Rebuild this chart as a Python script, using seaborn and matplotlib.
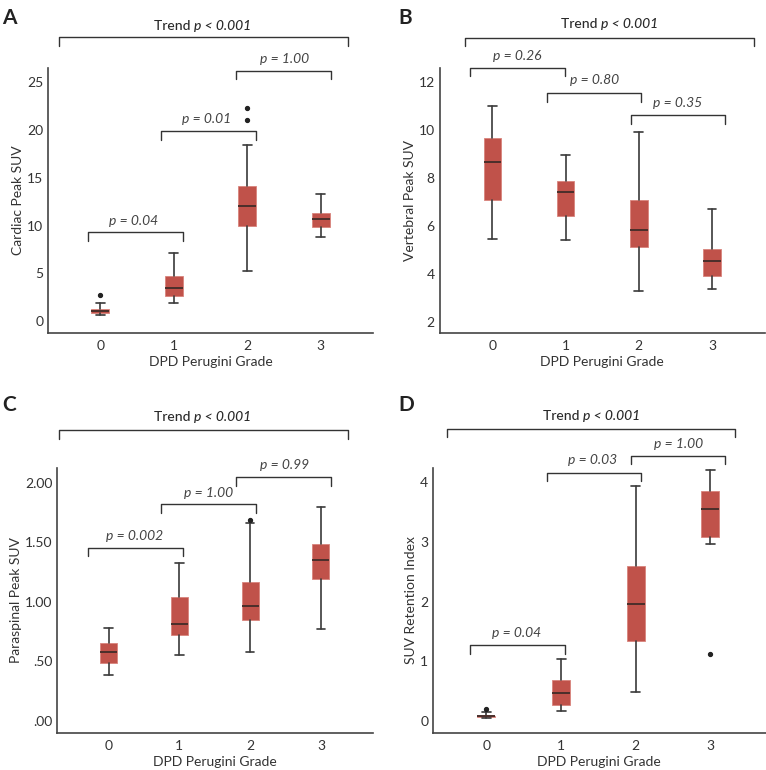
import numpy as np
import seaborn as sns
import matplotlib.pyplot as plt
from matplotlib import transforms

# grades on the x axis
grades = [0, 1, 2, 3]

# A - cardiac peak SUV
cardiac_lo = [0.63, 1.85, 5.28, 8.81]
cardiac_q1 = [0.87, 2.59, 9.97, 9.83]
cardiac_med = [1.08, 3.46, 12.0, 10.66]
cardiac_q3 = [1.22, 4.69, 14.16, 11.36]
cardiac_hi = [1.85, 7.17, 18.4, 13.25]
cardiac_out = [[2.7], [], [21.1, 22.3], []]

# B - vertebral peak SUV
vert_lo = [5.46, 5.42, 3.30, 3.38]
vert_q1 = [7.10, 6.42, 5.12, 3.94]
vert_med = [8.69, 7.41, 5.86, 4.54]
vert_q3 = [9.68, 7.87, 7.08, 5.03]
vert_hi = [11.02, 8.95, 9.91, 6.71]
vert_out = [[], [], [], []]

# C - paraspinal peak SUV
para_lo = [0.384, 0.557, 0.580, 0.768]
para_q1 = [0.487, 0.717, 0.846, 1.188]
para_med = [0.574, 0.815, 0.961, 1.347]
para_q3 = [0.655, 1.042, 1.162, 1.482]
para_hi = [0.776, 1.328, 1.658, 1.796]
para_out = [[], [], [1.689], []]

# D - SUV retention index
ret_lo = [0.04, 0.168, 0.476, 2.965]
ret_q1 = [0.062, 0.257, 1.337, 3.077]
ret_med = [0.075, 0.47, 1.958, 3.558]
ret_q3 = [0.088, 0.677, 2.60, 3.85]
ret_hi = [0.145, 1.03, 3.94, 4.21]
ret_out = [[0.19], [], [], [1.113]]

# pairwise p values (0-1, 1-2, 2-3)
p_cardiac = ["0.04", "0.01", "1.00"]
p_vert = ["0.26", "0.80", "0.35"]
p_para = ["0.002", "1.00", "0.99"]
p_ret = ["0.04", "0.03", "1.00"]
trend_p = "0.001"

RED = "#c0524a"
DARK = "#333333"

sns.set_theme(style="white")
plt.rcParams["font.family"] = ["Lato", "DejaVu Sans"]
plt.rcParams["text.color"] = DARK
plt.rcParams["axes.labelcolor"] = DARK
plt.rcParams["xtick.color"] = DARK
plt.rcParams["ytick.color"] = DARK

fig = plt.figure(figsize=(7.66, 7.70), dpi=100)


def box_stats(lo, q1, med, q3, hi, out):
    stats = []
    for i in range(len(grades)):
        stats.append(dict(whislo=lo[i], q1=q1[i], med=med[i], q3=q3[i],
                          whishi=hi[i], fliers=out[i]))
    return stats


def bracket(ax, x0, x1, y, drop, label, tx, ty):
    ax.plot([x0, x0, x1, x1], [y - drop, y, y, y - drop], color=DARK, lw=1.0,
            clip_on=False)
    ax.text(tx, ty, "p = " + label, ha="center", va="center", fontsize=10,
            style="italic", color="#444444", clip_on=False)


def trend(ax, x0, x1, y, drop, tx, ty):
    ax.plot([x0, x0, x1, x1], [y - drop, y, y, y - drop], color=DARK, lw=1.0,
            clip_on=False)
    off = transforms.offset_copy(ax.transData, fig=fig, x=-9, y=0, units="dots")
    t1 = ax.text(tx, ty, "Trend ", ha="right", va="center", fontsize=10,
                 fontweight="medium", transform=off, clip_on=False, color="#2a2a2a")
    ax.annotate("p < " + trend_p, xy=(1, 0.5), xycoords=t1, va="center",
                ha="left", fontsize=10, style="italic", fontweight="medium",
                color="#2a2a2a")


panels = [
    dict(rect=[0.0627, 0.5675, 0.4243, 0.3442], letter="A",
         stats=box_stats(cardiac_lo, cardiac_q1, cardiac_med, cardiac_q3, cardiac_hi, cardiac_out),
         ylabel="Cardiac Peak SUV", xlim=(-0.71, 3.71), ylim=(-1.26, 26.5),
         yticks=[0, 5, 10, 15, 20, 25], yfmt="{:.0f}", p=p_cardiac,
         br=[(-0.17, 1.13, 9.3, 0.9, 0.45, 10.5),
             (0.83, 2.12, 19.9, 0.9, 1.45, 21.2),
             (1.85, 3.14, 26.2, 0.9, 2.5, 27.4)],
         tr=(-0.56, 3.37, 29.7, 0.9, 1.4, 30.9)),
    dict(rect=[0.574, 0.5675, 0.4243, 0.3442], letter="B",
         stats=box_stats(vert_lo, vert_q1, vert_med, vert_q3, vert_hi, vert_out),
         ylabel="Vertebral Peak SUV", xlim=(-0.72, 3.72), ylim=(1.54, 12.6),
         yticks=[2, 4, 6, 8, 10, 12], yfmt="{:.0f}", p=p_vert,
         br=[(-0.30, 0.99, 12.6, 0.35, 0.34, 13.09),
             (0.74, 2.03, 11.55, 0.35, 1.39, 12.08),
             (1.89, 3.18, 10.63, 0.35, 2.53, 11.12)],
         tr=(-0.38, 3.57, 13.85, 0.35, 1.6, 14.44)),
    dict(rect=[0.0748, 0.0484, 0.4125, 0.3442], letter="C",
         stats=box_stats(para_lo, para_q1, para_med, para_q3, para_hi, para_out),
         ylabel="Paraspinal Peak SUV", xlim=(-0.725, 3.74), ylim=(-0.10, 2.126),
         yticks=[0, 0.5, 1.0, 1.5, 2.0], yfmt="para", p=p_para,
         br=[(-0.29, 1.05, 1.454, 0.072, 0.37, 1.555),
             (0.74, 2.08, 1.818, 0.072, 1.41, 1.916),
             (1.80, 3.14, 2.048, 0.072, 2.48, 2.146)],
         tr=(-0.70, 3.38, 2.443, 0.072, 1.34, 2.555)),
    dict(rect=[0.5653, 0.0484, 0.4343, 0.3442], letter="D",
         stats=box_stats(ret_lo, ret_q1, ret_med, ret_q3, ret_hi, ret_out),
         ylabel="SUV Retention Index", xlim=(-0.714, 3.74), ylim=(-0.20, 4.246),
         yticks=[0, 1, 2, 3, 4], yfmt="{:.0f}", p=p_ret,
         br=[(-0.22, 1.05, 1.264, 0.14, 0.40, 1.466),
             (0.81, 2.07, 4.162, 0.14, 1.42, 4.37),
             (1.93, 3.20, 4.45, 0.14, 2.57, 4.65)],
         tr=(-0.53, 3.33, 4.895, 0.14, 1.42, 5.11)),
]

letter_pos = {"A": (0.003, 0.99), "B": (0.52, 0.99),
              "C": (0.003, 0.487), "D": (0.52, 0.487)}

for pn in panels:
    ax = fig.add_axes(pn["rect"])
    ax.bxp(pn["stats"], positions=grades, widths=0.24, patch_artist=True,
           showfliers=True,
           boxprops=dict(facecolor=RED, edgecolor="#d9837c", lw=0.6),
           medianprops=dict(color="#4a2f2b", lw=1.4),
           whiskerprops=dict(color="#3a3a3a", lw=1.2),
           capprops=dict(color="#3a3a3a", lw=1.2),
           capwidths=0.12,
           flierprops=dict(marker="o", markersize=2.8, markerfacecolor="#222222",
                           markeredgecolor="#222222"))
    ax.set_xlim(*pn["xlim"])
    ax.set_ylim(*pn["ylim"])
    ax.set_xticks(grades)
    ax.set_xticklabels([str(g) for g in grades])
    ax.set_yticks(pn["yticks"])
    if pn["yfmt"] == "para":
        ax.set_yticklabels([("{:.2f}".format(v)).lstrip("0") if v < 1 else "{:.2f}".format(v)
                            for v in pn["yticks"]])
    else:
        ax.set_yticklabels([pn["yfmt"].format(v) for v in pn["yticks"]])
    ax.tick_params(axis="x", length=0, labelsize=10, pad=5)
    ax.tick_params(axis="y", length=0, labelsize=10, pad=3.5)
    ax.set_xlabel("DPD Perugini Grade", fontsize=10, labelpad=3)
    ax.set_ylabel(pn["ylabel"], fontsize=10, labelpad=2)
    sns.despine(ax=ax)
    for s in ["left", "bottom"]:
        ax.spines[s].set_color("#444444")
        ax.spines[s].set_linewidth(1.2)
    for (x0, x1, y, d, tx, ty), lab in zip(pn["br"], pn["p"]):
        bracket(ax, x0, x1, y, d, lab, tx, ty)
    trend(ax, *pn["tr"])
    lx, ly = letter_pos[pn["letter"]]
    fig.text(lx, ly, pn["letter"], fontsize=15, fontweight="bold",
             ha="left", va="top", color="#222222")

fig.savefig("out.png", dpi=100)
